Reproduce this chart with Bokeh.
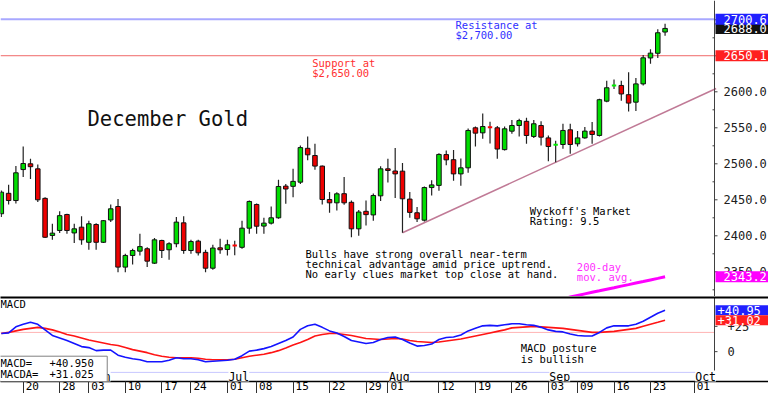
import pandas as pd
import numpy as np
from bokeh.plotting import figure
from bokeh.models import (Range1d, LinearAxis, FixedTicker, Label, LabelSet,
                          BoxAnnotation, ColumnDataSource)
from bokeh.layouts import column
from bokeh.embed import file_html
from bokeh.resources import INLINE
from bokeh.core.properties import value

# ---------------- data ----------------
holidays = ["2024-05-27", "2024-06-19", "2024-07-04", "2024-09-02"]
calendar = [d.strftime("%Y-%m-%d") for d in
            pd.bdate_range("2024-05-15", "2024-10-11", freq="C", holidays=holidays)]
pos = {d: i for i, d in enumerate(calendar)}

opens = [2430.6, 2459.0, 2449.0, 2492.0, 2500.0, 2493.0, 2452.0, 2400.5, 2407.4, 2429.6,
         2404.0, 2412.0, 2391.0, 2415.7, 2391.0, 2422.0, 2440.7, 2356.5, 2372.7, 2378.7,
         2382.0, 2362.0, 2393.5, 2380.6, 2389.0, 2418.0, 2379.6, 2392.6, 2377.0, 2355.0,
         2383.3, 2381.0, 2386.5, 2384.0, 2410.6, 2443.5, 2413.5, 2417.6, 2425.0, 2469.0,
         2468.7, 2474.5, 2521.5, 2511.5, 2496.8, 2450.4, 2445.8, 2458.5, 2446.5, 2409.7,
         2434.0, 2429.0, 2455.5, 2493.0, 2490.0, 2489.8, 2451.0, 2432.0, 2421.7, 2467.0,
         2470.0, 2512.8, 2505.7, 2486.0, 2494.4, 2550.0, 2543.0, 2550.8, 2550.0, 2519.7,
         2545.3, 2553.2, 2559.0, 2538.0, 2553.2, 2536.0, 2526.4, 2526.8, 2547.2, 2527.8,
         2536.0, 2545.4, 2539.4, 2587.0, 2608.8, 2608.8, 2596.0, 2585.6, 2611.0, 2647.0,
         2653.5, 2683.0]
highs = [2463.0, 2471.0, 2497.0, 2524.0, 2507.0, 2499.0, 2453.7, 2416.7, 2434.0, 2430.6,
         2416.7, 2427.0, 2421.0, 2417.6, 2422.0, 2443.5, 2451.0, 2375.0, 2382.0, 2402.8,
         2384.0, 2397.0, 2394.4, 2391.0, 2426.0, 2427.0, 2394.4, 2394.4, 2380.6, 2387.5,
         2396.0, 2394.4, 2393.0, 2421.0, 2449.0, 2445.0, 2425.0, 2440.7, 2477.8, 2472.0,
         2493.0, 2525.5, 2538.0, 2527.8, 2497.5, 2461.0, 2460.6, 2481.5, 2449.0, 2436.0,
         2449.0, 2458.8, 2496.5, 2507.0, 2522.0, 2501.0, 2461.0, 2440.0, 2468.5, 2477.0,
         2514.5, 2518.5, 2519.0, 2507.5, 2549.0, 2551.8, 2569.7, 2558.5, 2552.5, 2551.8,
         2561.0, 2562.5, 2564.0, 2561.0, 2559.0, 2539.3, 2532.0, 2555.6, 2555.6, 2545.4,
         2551.0, 2558.0, 2590.3, 2615.5, 2617.0, 2615.5, 2627.0, 2619.0, 2651.0, 2659.0,
         2687.0, 2694.4]
lows = [2426.0, 2443.5, 2445.0, 2481.5, 2479.0, 2447.0, 2397.0, 2394.4, 2404.0, 2403.0,
        2390.0, 2387.5, 2380.6, 2380.6, 2390.0, 2419.0, 2349.5, 2349.5, 2360.0, 2372.7,
        2356.5, 2361.0, 2369.0, 2366.7, 2384.0, 2375.0, 2375.0, 2372.7, 2349.5, 2352.8,
        2375.0, 2372.7, 2373.0, 2382.0, 2402.8, 2403.0, 2402.8, 2415.7, 2423.6, 2444.4,
        2453.7, 2472.0, 2505.0, 2491.7, 2443.5, 2432.0, 2435.0, 2443.0, 2398.0, 2400.0,
        2414.3, 2421.0, 2448.5, 2474.0, 2452.5, 2404.2, 2425.0, 2419.0, 2420.0, 2456.0,
        2462.5, 2498.0, 2476.5, 2469.5, 2487.5, 2524.0, 2534.7, 2528.2, 2507.0, 2518.5,
        2541.7, 2538.0, 2527.8, 2536.0, 2525.4, 2503.6, 2502.0, 2520.8, 2513.9, 2524.0,
        2534.7, 2527.8, 2538.0, 2585.6, 2604.0, 2587.5, 2572.5, 2573.5, 2608.8, 2639.0,
        2647.0, 2678.0]
closes = [2460.6, 2449.0, 2487.5, 2500.4, 2496.0, 2450.0, 2398.0, 2403.7, 2428.0, 2407.4,
          2409.7, 2394.4, 2416.7, 2391.0, 2421.0, 2437.5, 2356.5, 2372.7, 2379.6, 2385.0,
          2364.8, 2394.4, 2379.6, 2389.0, 2419.0, 2379.6, 2392.0, 2376.4, 2355.0, 2383.0,
          2380.6, 2387.5, 2386.5, 2410.6, 2447.7, 2413.3, 2417.6, 2425.0, 2468.5, 2465.0,
          2475.6, 2522.5, 2512.5, 2496.8, 2450.4, 2445.8, 2458.3, 2445.8, 2409.7, 2433.0,
          2429.4, 2456.0, 2493.0, 2490.7, 2486.0, 2451.4, 2432.5, 2423.6, 2467.0, 2470.7,
          2513.0, 2505.5, 2486.0, 2494.4, 2546.3, 2542.6, 2551.8, 2550.8, 2520.5, 2548.6,
          2553.2, 2560.0, 2539.3, 2555.6, 2537.0, 2524.0, 2526.4, 2546.3, 2526.8, 2536.0,
          2545.4, 2540.7, 2589.0, 2605.6, 2608.8, 2597.0, 2584.3, 2611.0, 2647.2, 2653.7,
          2682.0, 2688.0]

macd_line = [18, 18.5, 24.5, 27, 29, 27, 21.5, 16, 13.5, 11,
             8, 5, 4, 1, 1.5, 1.5, -3.5, -5.5, -7, -8,
             -10, -10, -10, -8.5, -6, -7, -7, -8, -10, -9.5,
             -9, -8.5, -7.5, -4, 0.5, 1.5, 3, 5, 8, 11,
             14.5, 22, 25.5, 27, 24, 20.5, 18.5, 15, 11, 9.5,
             8, 9, 12, 14, 14.5, 12, 8.5, 5.5, 6, 7.5,
             12, 14, 14.5, 16.5, 20.5, 23, 25.5, 26, 25.5, 26.5,
             27.5, 27.5, 26.5, 26, 24, 21.5, 20, 19.5, 17.5, 16,
             15.5, 15.5, 19, 23.5, 25.5, 25.5, 25.5, 27, 30, 34,
             38, 40.95]
signal_line = [18, 19, 20.5, 22, 23, 24, 23, 21.5, 19.5, 17,
               15.5, 13.5, 11.5, 10, 8.5, 7, 6, 4, 2, 0.5,
               -1, -3, -4.5, -5.5, -6, -6, -6, -6.5, -7.5, -8,
               -8, -8, -7.5, -6, -4.5, -3.5, -2.5, -1, 1, 3.5,
               6.5, 9, 12, 15.5, 17, 18, 18, 17, 16, 14.5,
               13, 12.5, 12, 12.5, 13, 12.5, 11, 10, 9.5, 9,
               9.5, 10.5, 11.5, 12.5, 14, 15.5, 17, 18.5, 20, 21.5,
               23.5, 24, 24.5, 25, 24.5, 24, 23.5, 23, 22, 21,
               20, 19, 19, 19.5, 20, 21, 22, 23, 25, 27,
               29, 31.03]

ma200_values = [2310.5, 2312.7, 2314.9, 2317.1, 2319.3, 2321.5, 2323.6, 2325.8,
                2327.9, 2330.1, 2332.2, 2334.4, 2336.5, 2338.7, 2340.9, 2343.2]

trend_dates = ["2024-08-05", "2024-10-04"]
trend_values = [2404.2, 2604.6]

resistance = 2700.6
support = 2650.1
last_close = 2688.0
ma200_last = 2343.2
macd_last = 40.950
macda_last = 31.025
macd_ref_level = 19

tick_dates = ["2024-05-20", "2024-05-28", "2024-06-03", "2024-06-10", "2024-06-17",
              "2024-06-24", "2024-07-01", "2024-07-08", "2024-07-15", "2024-07-22",
              "2024-07-29", "2024-08-01", "2024-08-12", "2024-08-19", "2024-08-26",
              "2024-09-03", "2024-09-09", "2024-09-16", "2024-09-23", "2024-10-01"]
month_dates = ["2024-06-03", "2024-07-01", "2024-08-01", "2024-09-03", "2024-10-01"]
month_names = ["Jun", "Jul", "Aug", "Sep", "Oct"]

price_ticks = [2350, 2400, 2450, 2500, 2550, 2600, 2650, 2700]
price_minor = [2325, 2375, 2425, 2475, 2525, 2575, 2625, 2675]
macd_ticks = [0, 25]
macd_tick_labels = ["0", "+25"]

# ---------------- derived ----------------
n = len(closes)
x = np.arange(n)
o = np.array(opens); h = np.array(highs); l = np.array(lows); c = np.array(closes)
prev_c = np.concatenate([[c[0]], c[:-1]])
doji = np.abs(c - o) < 0.05
up = c > o
body_col = np.where(up, "#00dd00", "#ee0000")
doji_col = np.where(c >= prev_c, "#00ee00", "#ff0000")

FONT = "DejaVu Sans Mono"
PX = 7.294                      # pixels per trading day
W = 768
x_lo = -0.112
x_hi = x_lo + W / PX
ax_x = x_lo + 714 / PX          # position of the right-hand value axis
xr = Range1d(x_lo, x_hi)
M_LO, M_HI = -29.5, 53.5

# ---------------- price panel ----------------
p = figure(width=W, height=296, x_range=xr, y_range=Range1d(2315.7, 2726.8),
           output_backend="svg", toolbar_location=None, x_axis_location=None,
           y_axis_location=None, min_border_left=0, min_border_right=0,
           min_border_top=0, min_border_bottom=0, outline_line_color=None)
p.grid.visible = False

p.segment(x0=[x_lo], y0=[resistance], x1=[ax_x], y1=[resistance],
          line_color="#a8a8ff", line_width=2)
p.segment(x0=[x_lo], y0=[support], x1=[ax_x], y1=[support],
          line_color="#f06868", line_width=1)

p.line([pos[d] for d in trend_dates], trend_values, line_color="#c07a96", line_width=1.5)
ma_x = x[-len(ma200_values):]
p.line(ma_x, ma200_values, line_color="#ff00ff", line_width=3)

src = ColumnDataSource(dict(x=x[~doji], top=np.maximum(o, c)[~doji],
                            bottom=np.minimum(o, c)[~doji], col=body_col[~doji]))
p.segment(x, l, x, h, line_color="#222222", line_width=1.2)
p.vbar(x="x", top="top", bottom="bottom", width=0.62, fill_color="col",
       line_color="#111111", line_width=1, source=src)
dsrc = ColumnDataSource(dict(x0=x[doji] - 0.3, x1=x[doji] + 0.3, y=c[doji], col=doji_col[doji]))
p.segment(x0="x0", y0="y", x1="x1", y1="y", line_color="col", line_width=2, source=dsrc)

# right value axis (drawn inside the plotting area so value tags can overlay it)
p.segment(x0=[ax_x], y0=[2315.7], x1=[ax_x], y1=[2726.8], line_color="#404040", line_width=1)
p.segment(x0=[ax_x] * len(price_ticks), y0=price_ticks,
          x1=[ax_x + 3 / PX] * len(price_ticks), y1=price_ticks, line_color="#404040")
p.segment(x0=[ax_x - 2 / PX] * len(price_minor), y0=price_minor,
          x1=[ax_x] * len(price_minor), y1=price_minor, line_color="#404040")
p.text(x=[ax_x] * len(price_ticks), y=price_ticks, text=[f"{t:.1f}" for t in price_ticks],
       x_offset=9, text_font=value(FONT), text_font_size=value("12px"),
       text_baseline="middle", text_align="left", text_color="#202020")

tag_vals = [last_close, resistance, support, ma200_last]
tag_cols = ["#111111", "#2020ff", "#ff2020", "#ff00ff"]
half = 5.5 / 0.72
p.quad(left=[ax_x + 1 / PX] * 4, right=[x_hi + 1] * 4,
       top=[v + half for v in tag_vals], bottom=[v - half for v in tag_vals],
       fill_color=tag_cols, line_color=None)
p.text(x=[ax_x] * 4, y=tag_vals, text=[f"{v:.1f}" for v in tag_vals], x_offset=9,
       text_font=value(FONT), text_font_size=value("12px"), text_baseline="middle",
       text_align="left", text_color="#ffffff")


def txt(fig, xv, yv, text, color="#000000", size="10.5px"):
    fig.add_layout(Label(x=xv, y=yv, text=text, text_color=color, text_font=FONT,
                         text_font_size=size, text_align="left", text_baseline="middle"))


txt(p, 11.82, 2562, "December Gold", "#111111", "20.5px")
txt(p, 62.27, 2692.1, "Resistance at", "#3030ff")
txt(p, 62.27, 2678.6, "$2,700.00", "#3030ff")
txt(p, 42.62, 2640.4, "Support at", "#ff3030")
txt(p, 42.62, 2626.5, "$2,650.00", "#ff3030")
txt(p, 72.45, 2434.4, "Wyckoff's Market")
txt(p, 72.45, 2420.8, "Rating: 9.5")
txt(p, 41.7, 2375.4, "Bulls have strong overall near-term")
txt(p, 41.7, 2361.1, "technical advantage amid price uptrend.")
txt(p, 41.7, 2346.7, "No early clues market top close at hand.")
txt(p, 78.9, 2356.0, "200-day", "#ff30ff")
txt(p, 78.9, 2342.1, "mov. avg.", "#ff30ff")

# ---------------- MACD panel ----------------
m = figure(width=W, height=97, x_range=xr, y_range=Range1d(M_LO, M_HI),
           output_backend="svg", toolbar_location=None, x_axis_location=None,
           y_axis_location=None, min_border_left=0, min_border_right=0,
           min_border_top=1, min_border_bottom=12, outline_line_color=None)
m.grid.visible = False

top_ax = LinearAxis(ticker=FixedTicker(ticks=[]), axis_line_color="#000000",
                    axis_line_width=2, major_tick_out=0, major_tick_in=0,
                    minor_tick_out=0, minor_tick_in=0, major_label_standoff=0,
                    major_label_text_font_size="0px")
m.add_layout(top_ax, "above")

tick_idx = [pos[d] for d in tick_dates]
label_pos = [i + 1.25 for i in tick_idx]     # day labels sit just right of each tick mark
bottom_ax = LinearAxis(ticker=FixedTicker(ticks=label_pos, minor_ticks=tick_idx),
                       major_label_overrides={lp: d[-2:] for lp, d in zip(label_pos, tick_dates)},
                       axis_line_color="#000000", axis_line_width=1.5,
                       major_tick_in=0, major_tick_out=0, major_tick_line_color=None,
                       minor_tick_in=0, minor_tick_out=12, minor_tick_line_color="#303030",
                       major_label_standoff=-12, major_label_text_font=FONT,
                       major_label_text_font_size="11px", major_label_text_color="#000000")
m.add_layout(bottom_ax, "below")

m.segment(x0=[x_lo], y0=[macd_ref_level], x1=[ax_x], y1=[macd_ref_level],
          line_color="#ffb4b4", line_width=1)
m.segment(x0=[x_lo], y0=[-20.5], x1=[ax_x], y1=[-20.5], line_color="#c8c8ff", line_width=1)
m.line(x, signal_line, line_color="#ff1414", line_width=1.6)
m.line(x, macd_line, line_color="#1414ff", line_width=1.6)

# right value axis for MACD
m.segment(x0=[ax_x], y0=[M_LO], x1=[ax_x], y1=[M_HI], line_color="#404040", line_width=1)
m.segment(x0=[ax_x] * 2, y0=macd_ticks, x1=[ax_x + 3 / PX] * 2, y1=macd_ticks,
          line_color="#404040")
m.text(x=[ax_x] * 2, y=macd_ticks, text=macd_tick_labels, x_offset=13,
       text_font=value(FONT), text_font_size=value("12px"), text_baseline="middle",
       text_align="left", text_color="#202020")
mtag_vals = [macd_last, macda_last]
mtag_cols = ["#2020ff", "#ff2020"]
m.quad(left=[ax_x + 1 / PX] * 2, right=[x_hi + 1] * 2,
       top=[v + 5 for v in mtag_vals], bottom=[v - 5 for v in mtag_vals],
       fill_color=mtag_cols, line_color=None)
m.text(x=[ax_x] * 2, y=mtag_vals, text=[f"{v:+.2f}" for v in mtag_vals], x_offset=3,
       text_font=value(FONT), text_font_size=value("12px"), text_baseline="middle",
       text_align="left", text_color="#ffffff")

msrc = ColumnDataSource(dict(x=[pos[d] for d in month_dates], y=[-25.5] * len(month_dates),
                             text=month_names))
m.add_layout(LabelSet(x="x", y="y", text="text", source=msrc, x_offset=1,
                      text_font=value(FONT), text_font_size=value("11.5px"),
                      text_baseline="middle", text_align="left",
                      background_fill_color="#ffffff", text_color="#000000"))

m.add_layout(BoxAnnotation(left=x_lo - 1, right=14.52, top=-4.5, bottom=M_LO,
                           fill_color="#ffffff", fill_alpha=1.0,
                           line_color="#808080", line_alpha=1.0, line_width=1))
txt(m, x_lo, -11.2, "MACD=", "#000000", "10.5px")
txt(m, 6.6, -11.2, f"{macd_last:+.3f}", "#000000", "10.5px")
txt(m, x_lo, -22.2, "MACDA=", "#000000", "10.5px")
txt(m, 6.6, -22.2, f"{macda_last:+.3f}", "#000000", "10.5px")
txt(m, x_lo, 47.2, "MACD", "#000000", "10.5px")
txt(m, 71.2, 3.5, "MACD posture")
txt(m, 71.2, -7.3, "is bullish")

layout = column(p, m)
open("out.html", "w").write(file_html(layout, INLINE))
